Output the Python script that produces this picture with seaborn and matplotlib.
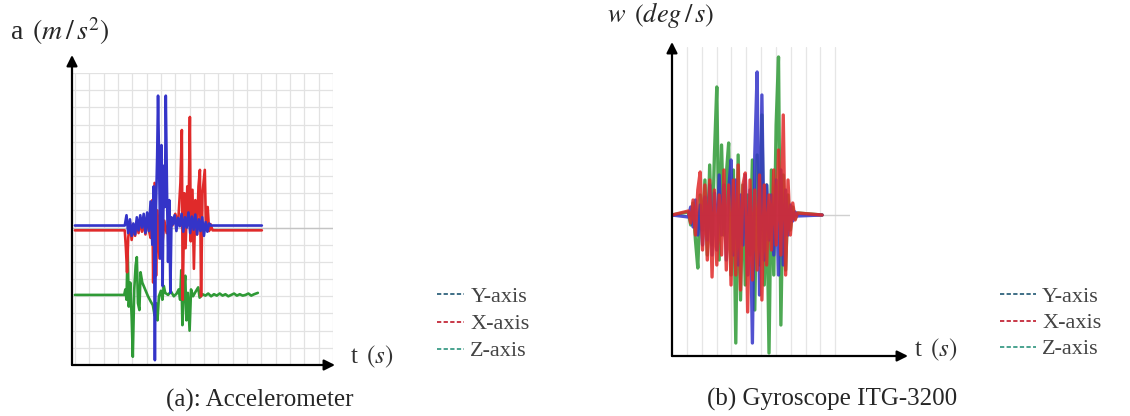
import numpy as np
import pandas as pd
import matplotlib
matplotlib.use("Agg")
import matplotlib.pyplot as plt
from matplotlib.lines import Line2D
import seaborn as sns

# ---------------- data: accelerometer (a) ----------------
acc_y_t = [0, 17.4, 18.0, 18.6, 19.2, 19.8, 20.4, 21.0, 21.6, 22.2, 22.8, 23.4, 24.0, 24.6,
           25.2, 25.8, 26.4, 27.0, 27.5, 27.9, 28.3, 28.7, 29.0, 29.4, 29.8, 30.2, 30.6, 31.0,
           31.4, 31.7, 32.1, 32.5, 32.9, 33.3, 33.7, 34.2, 34.8, 35.4, 36.0, 36.6, 37.2, 37.8,
           38.4, 39.0, 39.6, 40.2, 40.8, 41.4, 42.0, 42.6, 43.2, 43.8, 44.4, 45.0, 45.6, 46.2,
           46.8, 47.4, 65.2]
acc_y_v = [0.3, 0.3, 1.8, -0.8, 1.2, -1.2, 0.6, -1.0, 1.5, -0.4, 1.8, 0.0, 2.0, -0.8,
           2.2, -0.5, 3.8, -2.5, 6.0, -19.3, 3.0, 10.5, 19.2, 8.5, -4.5, 12.0, -8.5, 9.0,
           3.0, 19.2, 6.0, -5.0, 4.0, -9.5, 1.5, 0.5, 1.8, -0.5, 1.4, 0.2, 2.0, -0.6,
           1.5, 0.0, 2.2, -0.8, 1.6, -0.3, 1.9, -1.0, 1.2, -0.5, 1.5, -1.2, 0.8, -0.6,
           0.6, 0.3, 0.3]

acc_x_t = [0, 17.4, 17.8, 18.2, 18.6, 19.2, 19.8, 20.4, 21.0, 21.6, 22.2, 22.8, 23.4, 24.0,
           24.6, 25.2, 25.8, 26.4, 27.0, 27.3, 27.8, 28.3, 28.8, 29.5, 30.0, 30.5, 31.2, 32.0,
           33.0, 34.0, 35.0, 36.0, 36.8, 37.3, 37.6, 38.2, 38.6, 39.2, 39.6, 40.1, 40.4, 41.0,
           41.5, 42.0, 42.6, 43.1, 43.6, 44.0, 44.5, 45.3, 45.7, 46.3, 46.8, 47.3, 48.0, 65.2]
acc_x_v = [-0.4, -0.4, -3.0, -6.5, -1.5, 0.8, -1.8, 0.4, -1.2, 0.9, -0.8, 1.2, -0.6, 1.0,
           -1.0, 1.4, -0.4, -1.5, 4.0, -8.0, 6.5, -7.0, 2.5, -4.5, 1.5, -2.5, 1.0, -0.8,
           1.5, 0.3, 2.0, 0.6, 6.5, 14.2, -10.5, 5.0, -3.0, 6.0, 0.5, 16.1, -2.0, 5.5,
           -6.0, 4.0, -1.0, 6.0, 8.4, -10.0, 5.0, 8.4, 0.0, 3.0, -0.5, 0.5, -0.4, -0.4]

acc_z_t = [0, 17.2, 17.6, 18.0, 18.4, 18.8, 19.3, 19.8, 20.2, 20.7, 21.2, 21.6, 22.0, 22.5,
           22.9, 23.5, 24.5, 25.5, 26.5, 27.2, 27.8, 28.3, 28.8, 29.3, 30.0, 30.5, 31.0, 31.5,
           32.5, 33.5, 34.5, 35.5, 36.2, 36.7, 37.1, 37.5, 38.0, 38.5, 38.9, 39.4, 40.0, 40.5,
           41.2, 42.0, 43.0, 43.5, 44.5, 45.5, 46.5, 47.5, 48.5, 49.5, 50.5, 51.5, 52.5, 53.5,
           54.5, 55.5, 56.5, 57.5, 58.5, 59.5, 60.5, 61.5, 62.5, 63.8]
acc_z_v = [-9.8, -9.8, -9.0, -10.5, -3.0, -11.5, -8.0, -13.0, -18.8, -9.0, -5.5, -4.3, -11.0, -12.0,
           -6.5, -8.0, -9.0, -10.0, -10.8, -11.3, -12.8, -11.0, -13.5, -10.0, -9.2, -10.5, -8.5, -9.5,
           -9.8, -9.3, -10.0, -9.6, -9.0, -10.5, -6.2, -14.2, -9.0, -7.0, -13.5, -9.5, -15.0, -9.0,
           -10.0, -9.4, -8.7, -10.2, -9.7, -9.9, -9.6, -10.0, -9.7, -9.9, -9.6, -9.9, -9.7, -10.0,
           -9.8, -9.6, -9.9, -9.7, -9.9, -9.8, -9.6, -9.9, -9.7, -9.5]

# ---------------- data: gyroscope (b) ----------------
gyro_t = [0.0, 5.5, 6.3, 7.1, 7.9, 8.7, 9.5, 10.3, 11.1, 11.9, 12.7, 13.5, 14.3, 15.1, 15.9,
          16.7, 17.5, 18.3, 19.1, 19.9, 20.7, 21.5, 22.3, 23.1, 23.9, 24.7, 25.5, 26.3, 27.1,
          27.9, 28.7, 29.5, 30.3, 31.1, 31.9, 32.7, 33.5, 34.3, 35.1, 35.9, 36.7, 37.5, 38.3,
          39.1, 39.9, 40.7, 41.5, 42.3, 50.6]
gyro_y = [0, -2, 8, -12, 15, -20, 10, -30, 18, -25, 30, -40, 22, -35, 40,
          -20, 30, -45, 25, 55, -40, 35, -50, 20, -30, 40, -60, 25, -128,
          60, 143, -80, 120, -45, 30, -25, 20, -40, 35, -60, 45, -50, 25,
          -20, 10, -6, 3, -1, 0]
gyro_x = [0, 4, -8, 15, -20, 25, 43, -35, 30, -45, 35, -62, 25, -50, 20,
          -40, 45, -55, 30, -70, 35, -60, 50, -75, 30, 42, -97, 35, -65,
          25, -55, 40, -85, 30, -50, 20, -35, 45, -30, 65, -40, 100, -60,
          35, -20, 12, -5, 2, 0]
gyro_z = [0, 3, -10, 12, -25, -53, 20, -15, 35, -40, 50, -30, 60, 128, -45,
          70, -20, 40, 72, -60, 45, -128, 60, -85, 30, -70, 20, -40, 55,
          -95, 60, -50, 100, -70, 30, -138, 45, -60, 90, 158, -110, 40, -55,
          20, -15, 8, -4, 2, 0]

series_labels = ["Y-axis", "X-axis", "Z-axis"]
line_colors = {"Y-axis": "#3434c8", "X-axis": "#e02a2a", "Z-axis": "#2f9a36"}
legend_colors = {"Y-axis": "#3f6f86", "X-axis": "#c83848", "Z-axis": "#4aa38f"}

# ---------------- style ----------------
sns.set_theme(style="white")
plt.rcParams["font.family"] = ["Liberation Serif", "DejaVu Serif"]
plt.rcParams["mathtext.fontset"] = "stix"

W, H = 1130, 416
fig = plt.figure(figsize=(W / 100, H / 100), dpi=100)


def px_axes(l, t, r, b):
    return fig.add_axes([l / W, 1 - b / H, (r - l) / W, (b - t) / H])


def arrows(ax, xtip, ytip):
    kw = dict(xycoords="axes fraction", textcoords="axes fraction",
              arrowprops=dict(arrowstyle="-|>", color="black", lw=1.6,
                              mutation_scale=16, shrinkA=0, shrinkB=0),
              annotation_clip=False)
    ax.annotate("", xy=(xtip, 0), xytext=(0, 0), **kw)
    ax.annotate("", xy=(0, ytip), xytext=(0, 0), **kw)


# ---------------- panel (a) ----------------
axa = px_axes(72, 73, 333, 365)
axa.set_xlim(-1, 90)
axa.set_ylim(-20, 22.5)
axa.set_xticks(np.arange(0, 91, 5))
axa.set_yticks(np.arange(-17.5, 22.6, 2.5))
axa.grid(True, color="#e2e2e2", lw=0.9)
axa.tick_params(labelbottom=False, labelleft=False, length=0)
for s in axa.spines.values():
    s.set_visible(False)
axa.axhline(0, color="#c4c4c4", lw=1.0, zorder=1)

acc = {"Y-axis": (acc_y_t, acc_y_v), "X-axis": (acc_x_t, acc_x_v), "Z-axis": (acc_z_t, acc_z_v)}
for lab in ["Z-axis", "X-axis", "Y-axis"]:
    t, v = acc[lab]
    sns.lineplot(x=t, y=v, ax=axa, color=line_colors[lab], lw=1.9,
                 estimator=None, sort=False, zorder=3)
arrows(axa, (335 - 72) / 261, (365 - 55) / 292)

# ---------------- panel (b) ----------------
axb = px_axes(672, 47, 850, 356)
axb.set_xlim(0, 60)
axb.set_ylim(-141, 168)
axb.set_xticks(np.arange(5, 60, 5))
axb.set_yticks([])
axb.grid(True, axis="x", color="#e6e6e6", lw=0.9)
axb.tick_params(labelbottom=False, labelleft=False, length=0)
for s in axb.spines.values():
    s.set_visible(False)
axb.axhline(0, color="#d0d0d0", lw=1.0, zorder=1)

gyro = {"Y-axis": gyro_y, "X-axis": gyro_x, "Z-axis": gyro_z}
for lab in ["Z-axis", "Y-axis", "X-axis"]:
    sns.lineplot(x=gyro_t, y=gyro[lab], ax=axb, color=line_colors[lab], lw=2.4,
                 alpha=0.85, estimator=None, sort=False, zorder=3)
arrows(axb, (908 - 672) / 178, (356 - 42) / 309)

# ---------------- texts ----------------
fig.text(10 / W, 1 - 31 / H, r"a $\,(m\,/\,s^2)$", fontsize=20, ha="left", va="center")
fig.text(607 / W, 1 - 15 / H, r"$w\ \,(deg\,/\,s)$", fontsize=19, ha="left", va="center")
fig.text(350 / W, 1 - 357 / H, r"t $\,(s)$", fontsize=18, ha="left", va="center", color="#333333")
fig.text(914 / W, 1 - 350 / H, r"t $\,(s)$", fontsize=18, ha="left", va="center", color="#333333")

fig.text(260 / W, 1 - 400 / H, "(a): Accelerometer", fontsize=18, ha="center", va="center")
fig.text(832 / W, 1 - 399 / H, "(b) Gyroscope ITG-3200", fontsize=18, ha="center", va="center")

handles = [Line2D([0], [0], color=legend_colors[l], lw=1.4, ls=(0, (2.2, 1.2))) for l in series_labels]
fig.legend(handles, series_labels, loc="center left", bbox_to_anchor=(417 / W, 1 - 324 / H),
           frameon=False, fontsize=16, handlelength=1.2, handletextpad=0.3, labelspacing=0.3,
           labelcolor="#444444")
fig.legend(handles, series_labels, loc="center left", bbox_to_anchor=(980 / W, 1 - 323 / H),
           frameon=False, fontsize=16, handlelength=1.6, handletextpad=0.3, labelspacing=0.25,
           labelcolor="#444444")

fig.savefig("out.png", dpi=100)
